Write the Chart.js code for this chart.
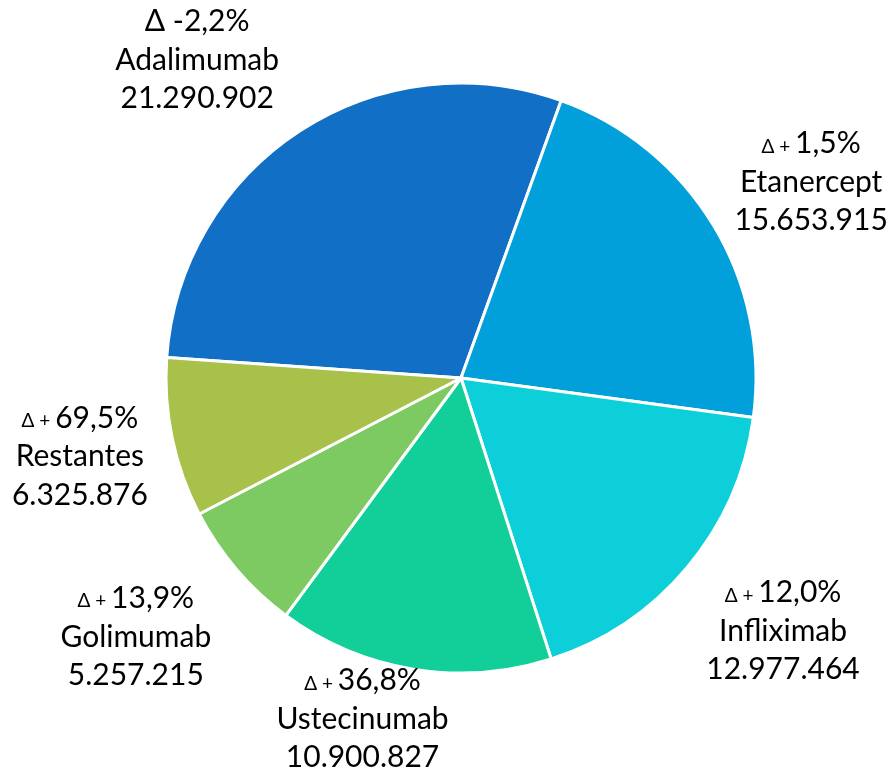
<!DOCTYPE html>
<html>
<head>
<meta charset="utf-8">
<script src="https://cdn.jsdelivr.net/npm/chart.js@4"></script>
<style>
html,body{margin:0;padding:0;background:#fff;}
#wrap{width:889px;height:771px;position:relative;}
</style>
</head>
<body>
<div id="wrap"><canvas id="c" width="889" height="771"></canvas></div>
<script>
const categories = ['Adalimumab', 'Etanercept', 'Infliximab', 'Ustecinumab', 'Golimumab', 'Restantes'];
const values = [21290902, 15653915, 12977464, 10900827, 5257215, 6325876];
const deltas = ['-2,2%', '+1,5%', '+12,0%', '+36,8%', '+13,9%', '+69,5%'];
const valueLabels = ['21.290.902', '15.653.915', '12.977.464', '10.900.827', '5.257.215', '6.325.876'];

const colors = ['#1170C6', '#01A0DA', '#0DCFDA', '#12CF9A', '#7DCA63', '#A8C14A'];
// label placement: [angle shift (deg), radius factor]
const labelPlace = [[-6.6, 1.401], [2.0, 1.360], [-1.8, 1.388], [6.8, 1.203], [2.0, 1.409], [0.1, 1.319]];

const FONT = 'Lato, "Noto Sans", sans-serif';
const BIG = 30, SMALL = 19, LINE = 38.5;

const labelPlugin = {
  id: 'outLabels',
  afterDraw(chart) {
    const ctx = chart.ctx;
    const meta = chart.getDatasetMeta(0);
    ctx.save();
    ctx.fillStyle = '#000';
    ctx.textBaseline = 'middle';
    meta.data.forEach((arc, i) => {
      const p = arc.getProps(['x', 'y', 'startAngle', 'endAngle', 'outerRadius'], true);
      const mid = (p.startAngle + p.endAngle) / 2 + labelPlace[i][0] * Math.PI / 180;
      const r = p.outerRadius * labelPlace[i][1];
      const cx = p.x + Math.cos(mid) * r;
      const cy = p.y + Math.sin(mid) * r;
      const d = deltas[i];
      let segs;
      if (d.startsWith('+')) {
        segs = [{t: 'Δ + ', s: SMALL}, {t: d.slice(1), s: BIG}];
      } else {
        segs = [{t: 'Δ ' + d, s: BIG}];
      }
      let total = 0;
      segs.forEach(sg => { ctx.font = sg.s + 'px ' + FONT; sg.w = ctx.measureText(sg.t).width; total += sg.w; });
      let x = cx - total / 2;
      ctx.textAlign = 'left';
      segs.forEach(sg => {
        ctx.font = sg.s + 'px ' + FONT;
        const yy = cy - LINE + (sg.s === SMALL ? 3 : 0);
        ctx.fillText(sg.t, x, yy);
        x += sg.w;
      });
      ctx.textAlign = 'center';
      ctx.font = BIG + 'px ' + FONT;
      ctx.fillText(categories[i], cx, cy);
      ctx.fillText(valueLabels[i], cx, cy + LINE);
    });
    ctx.restore();
  }
};

new Chart(document.getElementById('c'), {
  type: 'pie',
  data: {
    labels: categories,
    datasets: [{
      data: values,
      backgroundColor: colors,
      borderColor: '#ffffff',
      borderWidth: 3,
      hoverOffset: 0
    }]
  },
  options: {
    responsive: false,
    animation: false,
    rotation: -86,
    radius: 295,
    layout: { padding: { left: 100, right: 67, top: 50, bottom: 65 } },
    plugins: { legend: { display: false }, tooltip: { enabled: false } },
    events: []
  },
  plugins: [labelPlugin]
});
</script>
</body>
</html>
